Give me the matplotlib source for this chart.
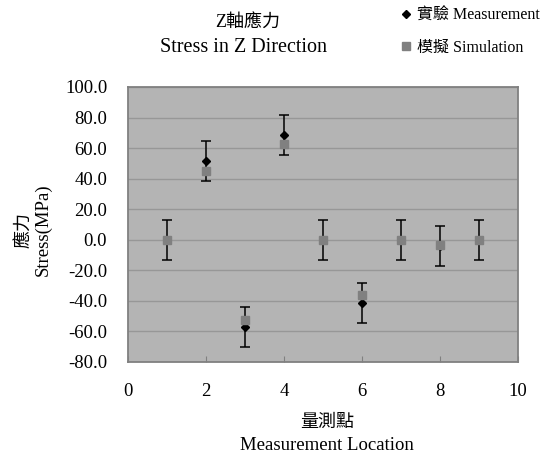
import matplotlib.pyplot as plt
import numpy as np

plt.rcParams['font.family'] = ['Liberation Serif', 'Noto Sans CJK TC']
plt.rcParams['axes.unicode_minus'] = False

# measurement locations and stresses (MPa)
locations = [1, 2, 3, 4, 5, 6, 7, 8, 9]
measured = [0.0, 51.6, -57.2, 68.6, 0.0, -41.4, 0.0, -4.0, 0.0]
simulated = [0.0, 44.8, -52.3, 62.9, 0.0, -36.4, 0.0, -3.6, 0.0]
error = [13.2] * 9

fig = plt.figure(figsize=(5.46, 4.55), dpi=100)
ax = fig.add_axes([128 / 546, 1 - 362 / 455, 390 / 546, 275 / 455])
ax.set_facecolor('#b4b4b4')

ax.errorbar(locations, measured, yerr=error, fmt='none', ecolor='black',
            elinewidth=1.1, capsize=3.3, capthick=1.1, zorder=3)
ax.plot(locations, measured, 'D', color='black', markersize=4.5, zorder=4,
        label='實驗 Measurement')
ax.plot(locations, simulated, 's', color='#808080', markersize=5.5, zorder=5,
        label='模擬 Simulation')

ax.set_xlim(0, 10)
ax.set_ylim(-80, 100)
ax.set_xticks(np.arange(0, 11, 2))
ax.set_yticks(np.arange(-80, 101, 20))
ax.set_yticklabels([f'{v:.1f}' for v in np.arange(-80, 101, 20)])
ax.yaxis.grid(True, color='#979797', linewidth=1)
ax.set_axisbelow(True)
ax.tick_params(axis='x', direction='in', length=4, color='#808080', pad=15,
               labelsize=13.5)
ax.tick_params(axis='y', length=0, pad=15, labelsize=13.5)
for s in ax.spines.values():
    s.set_color('#808080')
    s.set_linewidth(1.3)

fig.text(248 / 546, 1 - 22 / 455, 'Z軸應力', ha='center', va='center', fontsize=13)
fig.text(244 / 546, 1 - 47 / 455, 'Stress in Z Direction', ha='center', va='center',
         fontsize=14.5)
fig.text(327 / 546, 1 - 422 / 455, '量測點', ha='center', va='center', fontsize=13)
fig.text(327 / 546, 1 - 445 / 455, 'Measurement Location', ha='center', va='center',
         fontsize=13.5)
fig.text(24 / 546, 1 - 230 / 455, '應力', ha='center', va='center', fontsize=13,
         rotation=90)
fig.text(43 / 546, 1 - 230 / 455, 'Stress(MPa)', ha='center', va='center',
         fontsize=13.5, rotation=90)

ax.legend(loc='upper left', bbox_to_anchor=(401 / 546, 1 - 8 / 455),
          bbox_transform=fig.transFigure, frameon=False, fontsize=11.5,
          handlelength=0.6, handletextpad=0.4, labelspacing=1.0,
          borderaxespad=0, borderpad=0)

fig.savefig('out.png', dpi=100)
